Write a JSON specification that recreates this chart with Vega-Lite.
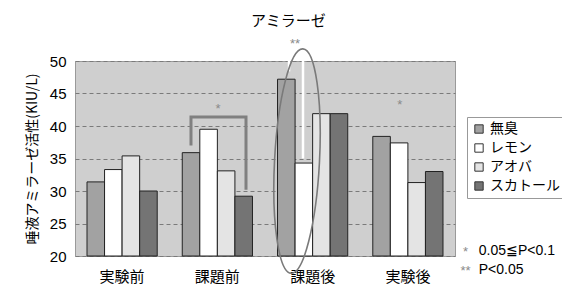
{
  "$schema": "https://vega.github.io/schema/vega-lite/v6.json",
  "width": 380,
  "height": 195,
  "autosize": {"type": "none"},
  "padding": {"left": 75, "top": 61, "right": 107, "bottom": 41},
  "background": "white",
  "config": {"view": {"fill": "#cfcfcf", "stroke": "#9a9a9a"}, "font": "Noto Sans CJK JP"},
  "datasets": {
    "bars": [
      {"phase": "実験前", "odor": "無臭", "value": 31.4},
      {"phase": "実験前", "odor": "レモン", "value": 33.3},
      {"phase": "実験前", "odor": "アオバ", "value": 35.4},
      {"phase": "実験前", "odor": "スカトール", "value": 30.0},
      {"phase": "課題前", "odor": "無臭", "value": 35.9},
      {"phase": "課題前", "odor": "レモン", "value": 39.5},
      {"phase": "課題前", "odor": "アオバ", "value": 33.1},
      {"phase": "課題前", "odor": "スカトール", "value": 29.2},
      {"phase": "課題後", "odor": "無臭", "value": 47.2},
      {"phase": "課題後", "odor": "レモン", "value": 34.3},
      {"phase": "課題後", "odor": "アオバ", "value": 41.9},
      {"phase": "課題後", "odor": "スカトール", "value": 41.9},
      {"phase": "実験後", "odor": "無臭", "value": 38.4},
      {"phase": "実験後", "odor": "レモン", "value": 37.4},
      {"phase": "実験後", "odor": "アオバ", "value": 31.3},
      {"phase": "実験後", "odor": "スカトール", "value": 33.0}
    ],
    "bracket": [
      {"seg": "b1", "ord": 1, "x": 1.221, "y": 37.0},
      {"seg": "b1", "ord": 2, "x": 1.221, "y": 41.4},
      {"seg": "b1", "ord": 3, "x": 1.8, "y": 41.4},
      {"seg": "b1", "ord": 4, "x": 1.8, "y": 30.2}
    ],
    "white": [
      {"seg": "w1", "ord": 1, "x": 2.253, "y": 50.0},
      {"seg": "w1", "ord": 2, "x": 2.253, "y": 48.4},
      {"seg": "w2", "ord": 1, "x": 2.4, "y": 50.0},
      {"seg": "w2", "ord": 2, "x": 2.4, "y": 35.0}
    ],
    "ellipse": [{"x": 2.337, "y": 34.6}],
    "stars": [
      {"x": 1.505, "y": 42.6, "t": "*"},
      {"x": 3.42, "y": 43.3, "t": "*"},
      {"x": 2.316, "y": 52.6, "t": "**"},
      {"x": 4.11, "y": 20.6, "t": "*"},
      {"x": 4.11, "y": 17.7, "t": "**"}
    ],
    "title": [{"x": 2.245, "y": 56.2, "t": "アミラーゼ"}],
    "notes": [
      {"x": 4.25, "y": 20.77, "t": "0.05≦P<0.1"},
      {"x": 4.25, "y": 17.84, "t": "P<0.05"}
    ]
  },
  "layer": [
    {
      "data": {"name": "bars"},
      "mark": {"type": "bar", "stroke": "#222222", "strokeWidth": 1},
      "encoding": {
        "x": {
          "field": "phase", "type": "nominal",
          "sort": ["実験前", "課題前", "課題後", "実験後"],
          "scale": {"paddingInner": 0.263, "paddingOuter": 0.126},
          "axis": {"title": null, "labelAngle": 0, "labelFontSize": 15, "labelPadding": 13, "ticks": false, "domain": false, "labelColor": "#000", "labelFont": "Noto Sans CJK JP"}
        },
        "xOffset": {"field": "odor", "type": "nominal", "sort": ["無臭", "レモン", "アオバ", "スカトール"], "scale": {"paddingInner": 0, "paddingOuter": 0}},
        "y": {
          "field": "value", "type": "quantitative",
          "scale": {"domain": [20, 50], "nice": false, "zero": false},
          "axis": {"title": "唾液アミラーゼ活性(KIU/L)", "titleFontSize": 14, "titleFontWeight": "normal", "titleColor": "#000", "titlePadding": 10, "titleFont": "Noto Sans CJK JP", "tickCount": 7, "values": [20, 25, 30, 35, 40, 45, 50], "labelOverlap": false, "labelFontSize": 15, "labelFont": "Liberation Sans", "labelColor": "#000", "labelPadding": 9, "ticks": false, "domain": false, "grid": true, "gridColor": "#7a7a7a", "gridDash": [4, 3], "gridWidth": 1}
        },
        "y2": {"datum": 20},
        "fill": {
          "field": "odor", "type": "nominal",
          "scale": {"domain": ["無臭", "レモン", "アオバ", "スカトール"], "range": ["#a2a2a2", "#ffffff", "#e4e4e4", "#747474"]},
          "legend": {"orient": "none", "legendX": 392, "legendY": 56, "title": null, "strokeColor": "#999999", "fillColor": "#ffffff", "padding": 5, "symbolType": "square", "symbolSize": 70, "symbolStrokeColor": "#333333", "symbolStrokeWidth": 1, "labelFontSize": 14, "labelFont": "Noto Sans CJK JP", "labelColor": "#000", "rowPadding": 5, "labelOffset": 4}
        }
      }
    },
    {
      "data": {"name": "bracket"},
      "mark": {"type": "line", "stroke": "#808080", "strokeWidth": 3},
      "encoding": {
        "x": {"field": "x", "type": "quantitative", "scale": {"domain": [0, 4], "nice": false, "zero": false}, "axis": null},
        "y": {"field": "y", "type": "quantitative", "scale": {"domain": [20, 50], "nice": false, "zero": false}},
        "detail": {"field": "seg"},
        "order": {"field": "ord"}
      }
    },
    {
      "data": {"name": "white"},
      "mark": {"type": "line", "stroke": "#ffffff", "strokeWidth": 2.5},
      "encoding": {
        "x": {"field": "x", "type": "quantitative", "scale": {"domain": [0, 4], "nice": false, "zero": false}, "axis": null},
        "y": {"field": "y", "type": "quantitative", "scale": {"domain": [20, 50], "nice": false, "zero": false}},
        "detail": {"field": "seg"},
        "order": {"field": "ord"}
      }
    },
    {
      "data": {"name": "ellipse"},
      "mark": {"type": "point", "shape": "M0,-1 A0.2,1 0 1,1 0,1 A0.2,1 0 1,1 0,-1 Z", "size": 50500, "filled": false, "stroke": "#7a7a7a", "strokeWidth": 1.6, "angle": 3, "opacity": 1},
      "encoding": {
        "x": {"field": "x", "type": "quantitative", "scale": {"domain": [0, 4], "nice": false, "zero": false}, "axis": null},
        "y": {"field": "y", "type": "quantitative", "scale": {"domain": [20, 50], "nice": false, "zero": false}}
      }
    },
    {
      "data": {"name": "stars"},
      "mark": {"type": "text", "color": "#8a8a8a", "fontSize": 13, "font": "Liberation Sans", "align": "center", "baseline": "middle"},
      "encoding": {
        "x": {"field": "x", "type": "quantitative", "scale": {"domain": [0, 4], "nice": false, "zero": false}, "axis": null},
        "y": {"field": "y", "type": "quantitative", "scale": {"domain": [20, 50], "nice": false, "zero": false}},
        "text": {"field": "t"}
      }
    },
    {
      "data": {"name": "title"},
      "mark": {"type": "text", "color": "#000000", "fontSize": 15, "font": "Noto Sans CJK JP", "align": "center", "baseline": "middle"},
      "encoding": {
        "x": {"field": "x", "type": "quantitative", "scale": {"domain": [0, 4], "nice": false, "zero": false}, "axis": null},
        "y": {"field": "y", "type": "quantitative", "scale": {"domain": [20, 50], "nice": false, "zero": false}},
        "text": {"field": "t"}
      }
    },
    {
      "data": {"name": "notes"},
      "mark": {"type": "text", "color": "#000000", "fontSize": 14, "font": "Liberation Sans", "align": "left", "baseline": "middle"},
      "encoding": {
        "x": {"field": "x", "type": "quantitative", "scale": {"domain": [0, 4], "nice": false, "zero": false}, "axis": null},
        "y": {"field": "y", "type": "quantitative", "scale": {"domain": [20, 50], "nice": false, "zero": false}},
        "text": {"field": "t"}
      }
    }
  ],
  "resolve": {"scale": {"x": "independent"}}
}
